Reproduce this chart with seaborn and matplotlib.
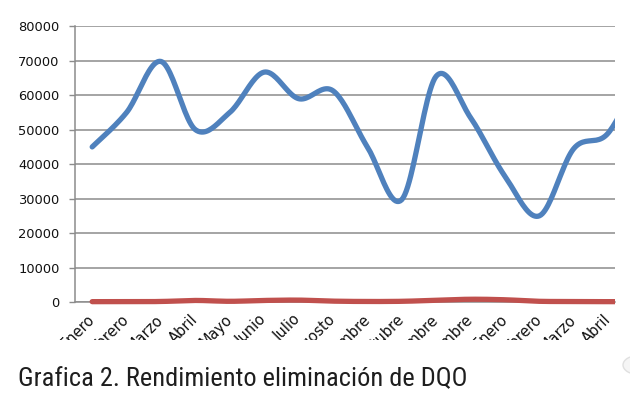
import numpy as np
import matplotlib
matplotlib.use("Agg")
import matplotlib.pyplot as plt
from matplotlib.patches import Rectangle, Circle
from matplotlib import font_manager
import seaborn as sns

# months on the x axis (the 17th one is cut off by the right edge of the picture)
meses = ["Enero", "Febrero", "Marzo", "Abril", "Mayo", "Junio", "Julio", "Agosto",
         "Septiembre", "Octubre", "Noviembre", "Diciembre", "Enero", "Febrero",
         "Marzo", "Abril", "Mayo"]
dqo_entrada = [45000, 55000, 69800, 50000, 55000, 66700, 59000, 61300, 45000,
               29700, 65500, 53500, 36500, 25000, 44500, 49000, 68000]
dqo_salida = [100, 100, 150, 450, 200, 450, 550, 250, 150, 200, 500, 800,
              650, 200, 150, 100, 100]
yticks = [0, 10000, 20000, 30000, 40000, 50000, 60000, 70000, 80000]
n_visible = 16

BLUE = "#4F81BD"
RED = "#C0504D"
GRID = "#8c8c8c"


def smooth(x, y, n=24):
    # excel-like smoothed line: cubic bezier through the points
    pts = np.column_stack([x, y]).astype(float)
    P = np.vstack([pts[0], pts, pts[-1]])
    t = np.linspace(0, 1, n)[:, None]
    out = []
    for i in range(1, len(P) - 2):
        p0, p1, p2, p3 = P[i - 1], P[i], P[i + 1], P[i + 2]
        c1 = p1 + (p2 - p0) / 6
        c2 = p2 - (p3 - p1) / 6
        seg = (1 - t) ** 3 * p1 + 3 * (1 - t) ** 2 * t * c1 + 3 * (1 - t) * t ** 2 * c2 + t ** 3 * p2
        out.append(seg if i == 1 else seg[1:])
    return np.vstack(out)


sns.set_style("white")
plt.rcParams["font.family"] = ["DejaVu Sans"]

W, H = 630, 394
fig = plt.figure(figsize=(W / 100, H / 100), dpi=100)
ax = fig.add_axes([75 / W, 1 - 302 / H, 540 / W, (302 - 26.3) / H])

x = np.arange(len(meses))
for vals, col in [(dqo_entrada, BLUE), (dqo_salida, RED)]:
    s = smooth(x, vals)
    sns.lineplot(x=s[:, 0], y=s[:, 1], ax=ax, color=col, lw=3.8, sort=False,
                 estimator=None, solid_capstyle="round", zorder=3)

clip = Rectangle((0, -0.05), 1, 1.2, transform=ax.transAxes)
for line in ax.lines:
    line.set_clip_path(clip)

ax.set_xlim(-0.5, 15.2)
ax.set_ylim(0, 80000)
ax.set_yticks(yticks)
ax.set_yticklabels([str(v) for v in yticks], fontsize=9.4, color="#111111")
ax.yaxis.grid(True, color=GRID, lw=1.1)
ax.set_axisbelow(True)

ax.set_xticks(x[:n_visible])
ax.set_xticklabels(meses[:n_visible], rotation=45, ha="right", va="center",
                   rotation_mode="anchor", fontsize=10.5, color="#111111")
ax.set_xticks(np.arange(0.5, n_visible - 1, 1), minor=True)
ax.tick_params(axis="x", which="major", length=0, pad=11)
ax.tick_params(axis="x", which="minor", length=3, width=1, color=GRID, direction="out")
ax.tick_params(axis="y", length=4, width=1, color=GRID, pad=7, left=True)

for side in ["top", "right"]:
    ax.spines[side].set_visible(False)
for side in ["left", "bottom"]:
    ax.spines[side].set_color(GRID)
    ax.spines[side].set_linewidth(1.1)
ax.set_xlabel("")
ax.set_ylabel("")

# page area below the chart hides the rest of the month labels
fig.add_artist(Rectangle((0, 0), 1, 1 - 340 / H, transform=fig.transFigure,
                         facecolor="white", edgecolor="none", zorder=5))
fig.add_artist(Circle((1 + 8 / W, 1 - 365 / H), 15 / W, transform=fig.transFigure,
                      facecolor="#f5f5f5", edgecolor="#e0e0e0", lw=1, zorder=6))

names = {f.name for f in font_manager.fontManager.ttflist}
cap_family = "DejaVu Sans"
for cand in ["Liberation Sans Narrow", "Roboto Condensed", "DejaVu Sans Condensed",
             "Open Sans Condensed", "Roboto"]:
    if cand in names:
        cap_family = cand
        break
cap = fig.text(18 / W, 1 - 386 / H, "Grafica 2. Rendimiento eliminación de DQO",
               family=cap_family, fontstretch="condensed", fontsize=19,
               color="#1e1e1e", va="baseline", ha="left", zorder=7)
# fit the caption to the width it has on the page
fig.canvas.draw()
w = cap.get_window_extent().width
cap.set_fontsize(min(19, 19 * 464 / w))

fig.savefig("out.png", dpi=100)
